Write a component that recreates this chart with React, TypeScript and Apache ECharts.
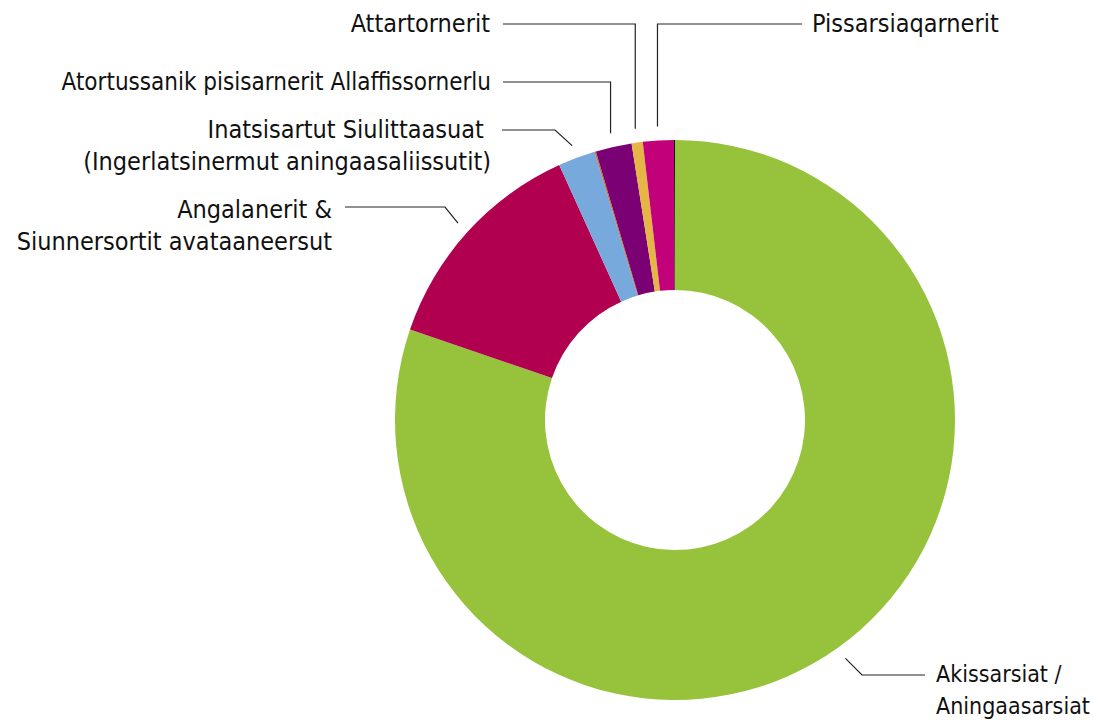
import React, { useEffect, useRef } from "react";
import * as echarts from "echarts";

const categories = [
  "Akissarsiat /\nAningaasarsiat",
  "Angalanerit &\nSiunnersortit avataaneersut",
  "Inatsisartut Siulittaasuat \n(Ingerlatsinermut aningaasaliissutit)",
  "",
  "Atortussanik pisisarnerit Allaffissornerlu",
  "Attartornerit",
  "Pissarsiaqarnerit",
  "",
];
const values = [80.3, 12.99, 2.15, 0.08, 2.08, 0.64, 1.78, 0.06];
const colors = ["#97C33C", "#B1004F", "#78A9DC", "#C8702A", "#7A0074", "#E5B545", "#C2007A", "#111111"];

// label layout config: kind, text anchor x, first line centre y, knee x, line end x, line y, align, font size
const labelCfg: any[] = [
  { kind: "elbow", tx: 936, ty: 674, knee: 862, end: 925, ly: 675, align: "left", fs: 23 },
  { kind: "elbow", tx: 332, ty: 209, knee: 445, end: 345, ly: 207, align: "right", fs: 25 },
  { kind: "elbow", tx: 491, ty: 129, knee: 555, end: 502, ly: 130, align: "right", fs: 25 },
  null,
  { kind: "vertical", tx: 491, ty: 82, end: 503, ly: 82, align: "right", fs: 24 },
  { kind: "vertical", tx: 490, ty: 23, end: 503, ly: 24, align: "right", fs: 25 },
  { kind: "vertical", tx: 812, ty: 23, end: 802, ly: 24, align: "left", fs: 25 },
  null,
];

const CX = 675;
const CY = 420;
const LINE_H = 32;

export default function App() {
  const ref = useRef<HTMLDivElement>(null);
  useEffect(() => {
    if (!ref.current) return;
    const chart = echarts.init(ref.current, null, { renderer: "svg" });
    const total = values.reduce((a, b) => a + b, 0);
    const mids: number[] = [];
    let acc = 0;
    values.forEach((v) => {
      mids.push(((acc + v / 2) / total) * 2 * Math.PI);
      acc += v;
    });
    chart.setOption({
      animation: false,
      backgroundColor: "#ffffff",
      series: [
        {
          type: "pie",
          center: [CX, CY],
          radius: [130, 280],
          startAngle: 90,
          clockwise: true,
          avoidLabelOverlap: false,
          silent: true,
          label: {
            show: true,
            color: "#111111",
            fontFamily: "DejaVu Sans Condensed",
            fontSize: 25,
            lineHeight: LINE_H,
            overflow: "none",
          },
          labelLine: { show: true, lineStyle: { color: "#222222", width: 1.2 } },
          labelLayout: (params: any) => {
            const i = params.dataIndex;
            const c = labelCfg[i];
            if (!c) return {};
            const th = mids[i];
            const r = c.kind === "vertical" ? 294 : 293;
            const px = CX + r * Math.sin(th);
            const py = CY - r * Math.cos(th);
            const lines = categories[i].split("\n").length;
            const pts =
              c.kind === "vertical"
                ? [[px, py], [px, c.ly], [c.end, c.ly]]
                : [[px, py], [c.knee, c.ly], [c.end, c.ly]];
            return {
              x: c.tx,
              y: c.ty + ((lines - 1) * LINE_H) / 2,
              align: c.align,
              verticalAlign: "middle",
              fontSize: c.fs,
              labelLinePoints: pts,
            };
          },
          data: values.map((v, i) => ({
            name: categories[i],
            value: v,
            itemStyle: { color: colors[i] },
            label: { show: !!labelCfg[i] },
            labelLine: { show: !!labelCfg[i] },
          })),
        },
      ],
    });
    return () => chart.dispose();
  }, []);
  return (
    <div
      ref={ref}
      style={{ position: "absolute", left: 0, top: 0, width: 1093, height: 720 }}
    />
  );
}
